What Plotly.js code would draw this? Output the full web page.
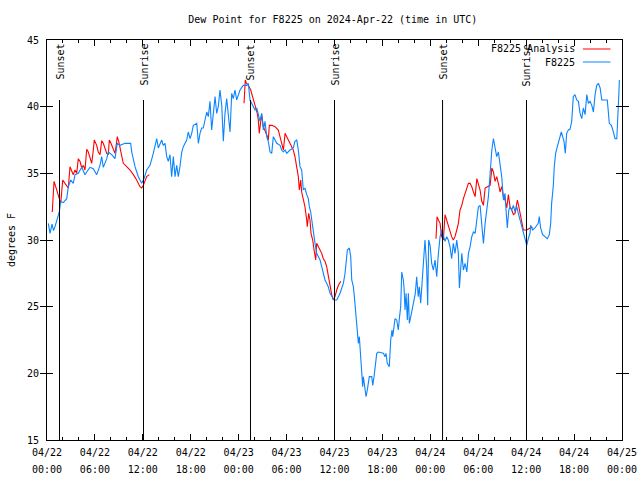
<!DOCTYPE html>
<html>
<head>
<meta charset="utf-8">
<script src="https://cdn.plot.ly/plotly-3.0.1.min.js"></script>
<style>html,body{margin:0;padding:0;background:#fff;}#chart{width:640px;height:480px;}</style>
</head>
<body>
<div id="chart"></div>
<script>
// Hours after 2024-04-22 00:00 UTC
const stationHours = [0.16,0.38,0.63,0.81,1.0,1.21,1.54,1.72,2.04,2.47,2.67,2.97,3.29,3.51,3.92,4.35,4.76,4.97,5.38,5.80,6.22,6.64,6.85,7.05,7.48,7.68,8.10,8.51,8.80,9.14,9.77,10.48,10.61,11.02,11.43,11.86,12.15,12.48,12.90,13.31,13.52,13.74,13.94,14.15,14.36,14.56,14.78,14.99,15.19,15.40,15.61,15.82,16.03,16.24,16.44,16.65,16.87,17.07,17.49,17.69,17.91,18.12,18.32,18.75,18.95,19.16,19.37,19.57,19.78,20.0,20.20,20.41,20.62,20.82,21.04,21.25,21.45,21.66,21.88,22.08,22.29,22.50,22.70,22.92,23.13,23.33,23.54,23.75,24.17,24.58,25.01,25.21,25.42,25.83,26.05,26.26,26.46,26.67,26.88,27.09,27.30,27.51,27.71,27.93,28.14,28.34,28.56,28.77,29.18,29.39,29.60,29.81,30.02,30.43,30.84,31.05,31.27,31.47,31.68,31.89,32.09,32.30,32.52,32.72,32.85,33.02,33.27,33.40,33.56,33.77,33.98,34.19,34.40,34.60,34.81,35.02,35.22,35.44,35.65,35.85,36.06,36.28,36.49,36.70,36.91,37.11,37.32,37.44,37.61,37.86,38.03,38.16,38.36,38.45,38.69,38.86,38.99,39.11,39.19,39.41,39.53,39.61,39.70,39.82,39.95,40.11,40.23,40.36,40.66,40.79,40.95,41.08,41.29,41.49,42.12,42.33,42.45,42.61,42.86,43.04,43.20,43.29,43.37,43.58,43.79,43.99,44.12,44.29,44.42,44.62,44.71,44.83,44.96,45.12,45.25,45.37,45.55,45.80,45.96,46.12,46.29,46.49,46.62,46.79,46.96,47.12,47.33,47.54,47.67,47.79,47.97,48.17,48.38,48.59,48.80,49.01,49.22,49.42,49.63,49.84,50.05,50.25,50.46,50.67,50.88,51.09,51.31,51.51,51.64,51.81,51.94,52.14,52.35,52.57,52.77,52.98,53.19,53.40,53.61,53.82,54.02,54.23,54.44,54.65,54.86,55.07,55.27,55.49,55.70,55.90,56.11,56.31,56.52,56.73,56.94,57.15,57.36,57.48,57.64,57.82,57.98,58.19,58.40,58.61,58.82,59.02,59.23,59.44,59.65,59.86,60.07,60.27,60.48,60.56,60.81,61.10,61.51,61.64,61.81,62.06,62.35,62.65,62.90,63.07,63.19,63.39,63.52,63.69,63.90,64.15,64.40,64.57,64.74,64.90,65.07,65.28,65.49,65.70,65.90,66.11,66.33,66.54,66.75,66.96,67.16,67.38,67.59,67.79,68.0,68.22,68.42,68.63,68.84,69.05,69.26,69.47,69.89,70.16,70.41,70.67,70.92,71.13,71.35,71.42,71.51,71.60,71.67];
const stationDewPoint = [31.25,30.5,31.2,30.7,31.0,31.5,32.1,32.9,32.8,33.1,34.0,34.5,34.25,34.9,35.0,35.45,34.9,35.1,35.45,35.35,34.9,35.6,36.25,35.45,36.1,36.6,36.4,36.1,37.25,37.1,37.25,37.25,36.6,35.5,34.75,34.25,34.6,35.25,35.6,36.5,37.0,37.6,36.9,37.25,37.5,37.1,37.25,36.25,35.9,36.4,34.75,36.25,34.75,35.6,34.75,35.5,36.6,37.0,37.5,38.1,37.6,38.0,38.6,38.75,37.25,38.0,38.4,38.4,38.9,39.6,39.25,40.4,38.25,39.5,40.75,39.5,40.0,41.25,40.1,37.4,39.5,40.6,39.25,38.1,41.0,40.6,41.25,40.5,41.25,41.6,41.6,41.75,40.5,40.0,39.75,39.9,39.4,38.9,39.5,38.25,38.9,37.75,37.4,36.6,36.5,37.75,37.5,37.25,37.1,36.75,36.6,36.75,36.5,36.75,36.9,37.4,37.5,36.75,35.5,35.25,33.75,33.9,33.4,33.1,32.5,32.1,31.0,30.25,29.75,29.0,28.75,28.5,28.0,27.5,27.0,26.75,26.5,26.0,25.75,25.6,25.5,25.5,25.75,26.0,26.4,26.75,27.5,28.5,29.25,29.4,28.75,27.0,26.5,26.0,24.0,22.75,22.25,22.75,22.0,20.0,19.0,19.75,19.25,18.5,18.25,18.75,19.25,19.75,19.75,19.1,19.75,20.5,21.5,21.6,21.5,21.25,21.5,20.75,20.5,22.5,23.25,22.75,23.25,24.1,24.0,23.25,24.1,25.0,27.6,27.0,26.4,24.75,26.0,24.0,26.0,23.75,24.25,25.0,25.5,26.0,27.25,25.75,26.5,25.25,26.75,28.0,30.0,28.0,25.1,30.0,29.6,28.25,27.75,28.5,27.25,29.0,30.25,30.75,30.25,29.9,30.25,30.0,29.5,28.6,29.75,29.0,30.0,29.0,26.4,28.25,29.0,27.75,28.25,27.6,29.0,29.5,30.25,30.6,30.5,31.5,32.5,32.6,31.25,29.75,31.25,32.25,33.25,35.0,36.75,37.6,36.9,36.25,36.6,35.5,34.75,33.0,33.5,32.25,30.9,32.25,32.5,32.25,32.6,32.1,32.5,32.0,31.5,30.9,30.6,30.0,29.6,30.1,30.5,31.1,30.75,30.9,31.25,31.75,30.9,30.4,30.25,30.1,30.4,31.25,32.75,34.0,35.5,36.5,37.0,37.6,38.1,37.75,37.4,36.5,38.0,38.25,38.3,38.9,40.75,40.9,40.5,40.4,39.5,39.1,39.9,39.4,40.9,40.25,40.4,40.1,39.6,40.9,41.6,41.75,41.4,40.5,40.5,40.5,38.75,38.6,38.1,37.6,37.6,39.0,40.1,40.9,42.0];

// Analysis series (null = gap)
const analysisHours = [0.66,0.79,0.88,1.09,1.29,1.54,1.72,1.84,1.97,2.25,2.67,2.88,3.09,3.29,3.51,3.72,3.92,4.13,4.35,4.55,4.76,4.97,5.17,5.38,5.60,5.80,5.92,6.22,6.42,6.64,6.85,7.05,7.26,7.48,7.68,7.80,8.01,8.23,8.39,8.51,8.64,8.80,8.98,9.14,9.35,9.55,9.98,10.39,10.81,11.23,11.64,11.86,12.06,12.27,12.48,12.81,
  18.0,
  24.67,24.83,24.98,25.21,25.51,25.83,26.05,26.33,26.46,26.58,26.73,26.88,27.09,27.30,27.51,27.71,27.84,28.17,28.56,28.96,29.18,29.39,29.60,29.81,30.02,30.22,30.43,30.64,30.84,31.05,31.27,31.47,31.60,31.77,31.89,32.09,32.30,32.52,32.59,32.77,32.93,33.06,33.27,33.44,33.65,33.77,33.98,34.19,34.40,34.60,34.81,35.02,35.22,35.44,35.65,35.85,36.06,36.28,36.49,36.79,
  42.0,
  48.71,48.84,49.01,49.22,49.42,49.63,49.84,50.05,50.25,50.46,50.67,50.88,51.09,51.31,51.51,51.72,51.94,52.14,52.35,52.57,52.77,52.98,53.19,53.40,53.61,53.82,54.02,54.23,54.44,54.65,54.86,55.27,55.49,55.70,55.90,56.11,56.31,56.52,56.73,56.94,57.15,57.36,57.57,57.77,57.98,58.19,58.40,58.61,58.90,59.05,59.23,59.44,59.65,60.07,60.48,60.81];
const analysisDewPoint = [32.1,34.1,34.4,34.0,33.5,33.1,32.75,34.0,34.5,34.25,33.9,35.5,35.25,34.9,35.25,35.0,36.1,35.9,35.4,35.6,35.25,36.8,36.6,36.1,35.75,36.75,37.5,37.1,36.6,36.4,37.45,37.25,36.9,36.5,36.4,37.5,37.25,36.9,36.6,36.5,37.0,37.75,37.4,37.0,36.25,35.75,35.5,35.25,34.9,34.5,34.0,33.9,34.1,34.5,34.75,34.9,
  null,
  40.25,42.0,41.75,41.6,41.25,40.6,40.0,39.5,39.0,38.0,38.75,39.4,38.5,38.25,37.9,37.5,38.6,38.6,38.5,38.25,37.6,37.25,36.75,38.0,37.75,37.5,37.25,37.0,36.75,36.25,35.5,34.75,33.75,34.5,33.6,33.0,32.5,31.5,31.0,32.0,31.5,30.5,30.0,29.25,28.5,29.75,29.5,29.25,29.0,28.6,28.4,28.0,27.25,26.5,25.9,25.5,25.75,26.25,26.6,26.9,
  null,
  30.1,31.75,31.5,31.25,30.25,30.0,31.9,31.5,31.0,30.75,30.25,30.0,30.25,30.75,31.25,32.25,32.6,33.1,33.5,34.0,34.25,34.25,34.0,33.6,33.25,34.6,34.25,33.75,32.9,32.6,33.9,34.0,34.1,35.4,35.1,34.4,34.75,34.25,33.6,34.0,33.25,33.0,32.4,33.4,32.5,32.25,31.9,32.0,33.0,32.6,32.0,31.25,30.75,30.75,30.9,30.95];

const eventHours = [1.565, 12.084, 25.48, 36.0, 49.53, 60.04];
const eventLabels = ["Sunset", "Sunrise", "Sunset", "Sunrise", "Sunset", "Sunrise"];
const seriesNames = ["F8225 Analysis", "F8225"];
const seriesColors = ["#ff0000", "#0a84ff"];

const base = Date.UTC(2024, 3, 22, 0, 0, 0);
function toDate(h) {
  if (h === null) return null;
  return new Date(base + Math.round(h * 3600000)).toISOString().slice(0, 19).replace('T', ' ');
}

const FONT = "DejaVu Sans Mono, Liberation Mono, monospace";
const xStart = '2024-04-22 00:00:00', xEnd = '2024-04-25 00:00:00';

const traces = [
  {
    x: analysisHours.map((h, i) => analysisDewPoint[i] === null ? null : toDate(h)),
    y: analysisDewPoint,
    type: 'scatter', mode: 'lines', name: seriesNames[0],
    line: {color: seriesColors[0], width: 1.1}, connectgaps: false, hoverinfo: 'skip'
  },
  {
    x: stationHours.map(toDate),
    y: stationDewPoint,
    type: 'scatter', mode: 'lines', name: seriesNames[1],
    line: {color: seriesColors[1], width: 1.1}, hoverinfo: 'skip'
  },
  { // helper so the second (time-of-day) label row is drawn
    x: [xStart, xEnd], y: [null, null], xaxis: 'x2', type: 'scatter', mode: 'lines',
    showlegend: false, hoverinfo: 'skip'
  }
];

const shapes = eventHours.map(h => ({
  type: 'line', xref: 'x', yref: 'paper', x0: toDate(h), x1: toDate(h), y0: 0, y1: 0.85,
  line: {color: '#000', width: 1}
}));
const annotations = eventHours.map((h, i) => ({
  x: toDate(h), y: 0.995, xref: 'x', yref: 'paper', text: eventLabels[i],
  textangle: -90, showarrow: false, xanchor: 'center', yanchor: 'top',
  font: {family: FONT, size: 10, color: '#000'}, xshift: 0
}));

// legend drawn manually (text left of the sample, gnuplot style)
const legY = [0.9775, 0.945];
seriesNames.forEach((n, i) => {
  annotations.push({x: 0.921, y: legY[i], xref: 'paper', yref: 'paper', text: n, showarrow: false,
    xanchor: 'right', yanchor: 'middle', font: {family: FONT, size: 10, color: '#000'}});
  shapes.push({type: 'line', xref: 'paper', yref: 'paper', x0: 0.932, x1: 0.98, y0: legY[i], y1: legY[i],
    line: {color: seriesColors[i], width: 1}});
});

const tickFont = {family: FONT, size: 10, color: '#000'};
const layout = {
  width: 640, height: 480,
  margin: {l: 47, r: 18, t: 40, b: 40},
  paper_bgcolor: '#fff', plot_bgcolor: '#fff',
  showlegend: false,
  font: {family: FONT, size: 10, color: '#000'},
  title: {text: 'Dew Point for F8225 on 2024-Apr-22 (time in UTC)', x: 0.52, xanchor: 'center', y: 0.96, yanchor: 'middle',
    font: {family: FONT, size: 10, color: '#000'}},
  xaxis: {
    type: 'date', range: [xStart, xEnd],
    tick0: xStart, dtick: 21600000,
    tickformat: '%m/%d',
    ticks: 'inside', ticklen: 6, tickcolor: '#000', tickwidth: 1,
    minor: {dtick: 7200000, ticks: 'inside', ticklen: 3, tickcolor: '#000', showgrid: false},
    showline: true, linecolor: '#000', linewidth: 1, mirror: 'allticks',
    showgrid: false, zeroline: false, tickfont: tickFont, ticklabelstandoff: 3
  },
  xaxis2: {
    type: 'date', overlaying: 'x', matches: 'x', side: 'bottom', range: [xStart, xEnd],
    tick0: xStart, dtick: 21600000, tickformat: '%H:%M',
    ticks: '', showline: false, showgrid: false, zeroline: false,
    tickfont: tickFont, ticklabelstandoff: 22
  },
  yaxis: {
    range: [15, 45], dtick: 5, tick0: 15,
    ticks: 'inside', ticklen: 6, tickcolor: '#000', tickwidth: 1,
    showline: true, linecolor: '#000', linewidth: 1, mirror: 'allticks',
    showgrid: false, zeroline: false, tickfont: tickFont, ticklabelstandoff: 5,
    title: {text: 'degrees F', font: {family: FONT, size: 10, color: '#000'}, standoff: 9}
  },
  shapes: shapes,
  annotations: annotations
};

Plotly.newPlot('chart', traces, layout, {staticPlot: true, displayModeBar: false});
</script>
</body>
</html>
